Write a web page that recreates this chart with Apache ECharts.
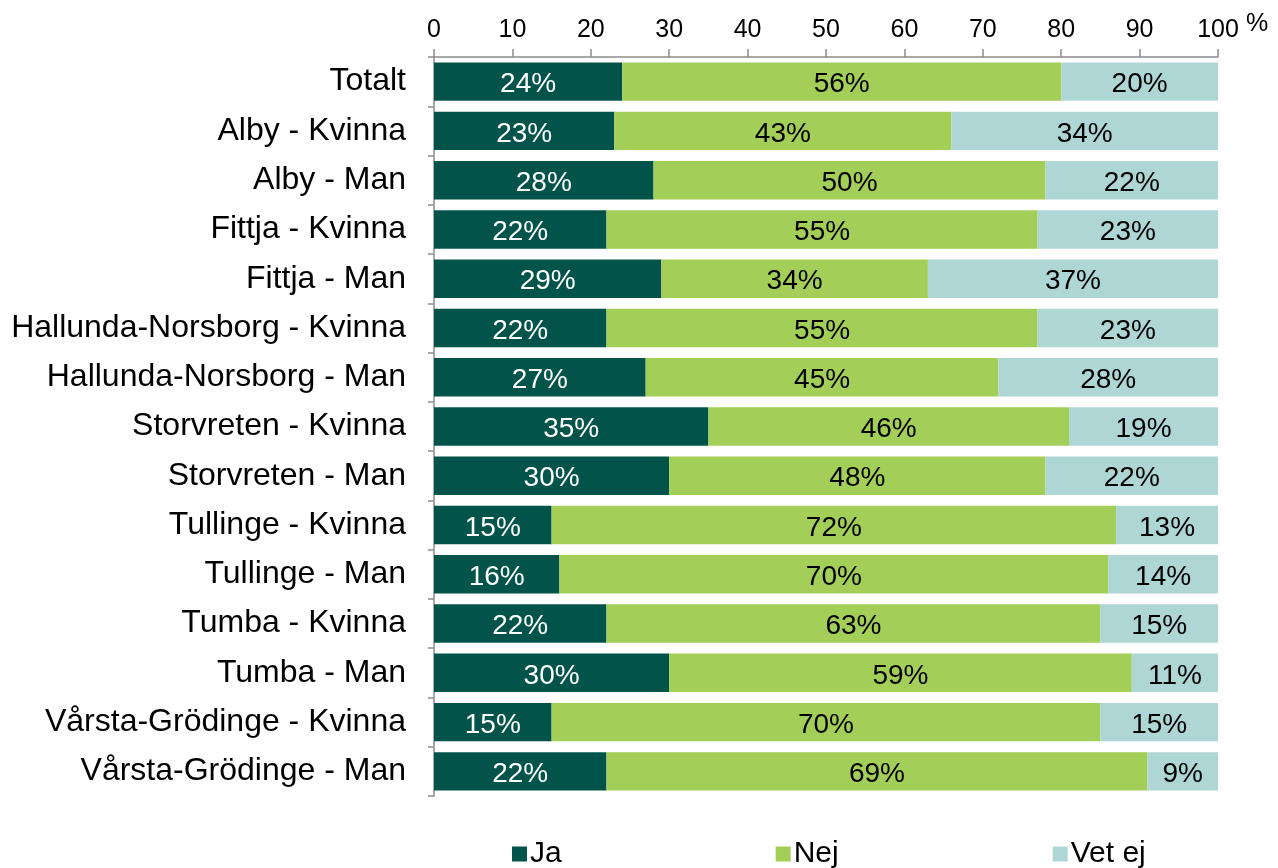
<!DOCTYPE html>
<html>
<head>
<meta charset="utf-8">
<script src="https://cdn.jsdelivr.net/npm/echarts@6/dist/echarts.min.js"></script>
<style>
  html, body { margin: 0; padding: 0; background: #fff; }
  #container { width: 1278px; height: 868px; }
</style>
</head>
<body>
<div id="container"></div>
<script>
// kategorier, uppifrån och ner
var categories = ['Totalt', 'Alby - Kvinna', 'Alby - Man', 'Fittja - Kvinna', 'Fittja - Man',
    'Hallunda-Norsborg - Kvinna', 'Hallunda-Norsborg - Man', 'Storvreten - Kvinna', 'Storvreten - Man',
    'Tullinge - Kvinna', 'Tullinge - Man', 'Tumba - Kvinna', 'Tumba - Man',
    'Vårsta-Grödinge - Kvinna', 'Vårsta-Grödinge - Man']
var ja = [24, 23, 28, 22, 29, 22, 27, 35, 30, 15, 16, 22, 30, 15, 22]
var nej = [56, 43, 50, 55, 34, 55, 45, 46, 48, 72, 70, 63, 59, 70, 69]
var vetEj = [20, 34, 22, 23, 37, 23, 28, 19, 22, 13, 14, 15, 11, 15, 9]
var seriesNames = ['Ja', 'Nej', 'Vet ej']
var colors = ['#02544a', '#a3ce57', '#aed6d5']

var font = 'Liberation Sans, Arial, sans-serif'

var makeSeries = function (name, data, color, labelColor) {
    return {
        name: name,
        type: 'bar',
        stack: 'total',
        data: data,
        barCategoryGap: '22%',
        itemStyle: { color: color },
        label: {
            show: true,
            position: 'inside',
            formatter: '{c}%',
            color: labelColor,
            fontSize: 28,
            fontFamily: font,
            offset: [0, 3],
        },
    }
}

var dom = document.getElementById('container')
var myChart = echarts.init(dom)

var option = {
    animation: false,
    color: colors,
    grid: { left: 434, right: 60, top: 57, bottom: 72, containLabel: false },
    legend: {
        top: 834,
        left: 507,
        itemGap: 214,
        itemWidth: 15,
        itemHeight: 15,
        icon: 'rect',
        textStyle: { fontSize: 30, fontFamily: font, color: '#000', padding: [0, 0, 0, -2] },
        data: seriesNames,
    },
    xAxis: {
        type: 'value',
        position: 'top',
        min: 0,
        max: 100,
        interval: 10,
        axisLine: { show: true, lineStyle: { color: '#8c8c8c', width: 1.5 } },
        axisTick: { show: true, length: 8, lineStyle: { color: '#8c8c8c', width: 1.5 } },
        splitLine: { show: false },
        axisLabel: { fontSize: 25, fontFamily: font, color: '#000', margin: 14 },
    },
    yAxis: {
        type: 'category',
        inverse: true,
        data: categories,
        axisLine: { show: true, lineStyle: { color: '#8c8c8c', width: 1.5 } },
        axisTick: { show: true, length: 6, lineStyle: { color: '#8c8c8c', width: 1.5 } },
        axisLabel: { fontSize: 32, fontFamily: font, color: '#000', margin: 28, padding: [8, 0, 0, 0] },
    },
    graphic: [{
        type: 'text',
        left: 1246,
        top: 12,
        style: { text: '%', fontSize: 25, fontFamily: font, fill: '#000' },
    }],
    series: [
        makeSeries(seriesNames[0], ja, colors[0], '#fff'),
        makeSeries(seriesNames[1], nej, colors[1], '#000'),
        makeSeries(seriesNames[2], vetEj, colors[2], '#000'),
    ],
}

myChart.setOption(option, true)
</script>
</body>
</html>
